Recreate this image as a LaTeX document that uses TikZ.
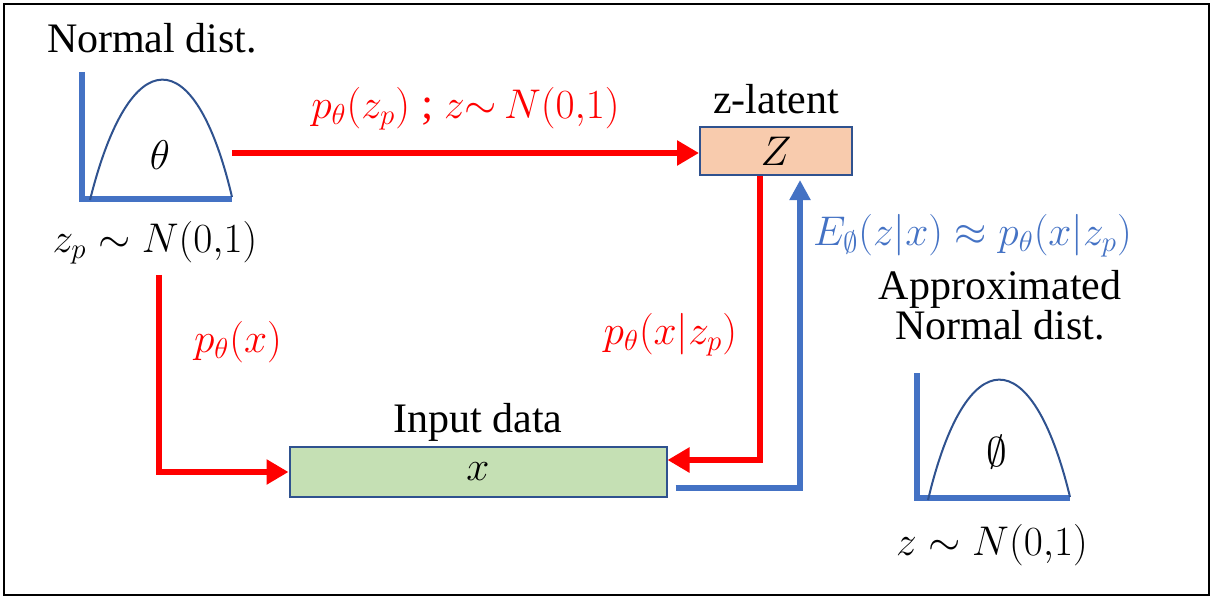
\documentclass[tikz,border=0pt]{standalone}
\usepackage{fontspec}
\setmainfont{Liberation Serif}
\usepackage{xcolor}
\usetikzlibrary{arrows.meta,positioning}

\definecolor{vaered}{HTML}{FF0000}
\definecolor{vaeblue}{HTML}{4472C4}
\definecolor{vaeedge}{HTML}{2F528F}
\definecolor{latentfill}{HTML}{F8CBAD}
\definecolor{inputfill}{HTML}{C5E0B4}

\begin{document}
\begin{tikzpicture}[x=0.5pt, y=-0.5pt, font=\fontsize{21}{25}\selectfont, every node/.style={inner sep=2pt}]
        \tikzset{
            box/.style={draw=vaeedge, line width=1pt, inner sep=0pt},
            redarr/.style={-{Triangle[length=11pt,width=12pt]}, draw=vaered, line width=3pt},
            bluearr/.style={-{Triangle[length=10pt,width=10pt]}, draw=vaeblue, line width=3pt},
            axis/.style={draw=vaeblue, line width=3pt},
            bell/.style={draw=vaeedge, line width=1pt},
            redlbl/.style={text=vaered, font=\fontsize{22}{26}\selectfont},
            bluelbl/.style={text=vaeblue, font=\fontsize{22}{26}\selectfont}
        }
        \useasboundingbox (0,0) rectangle (1213,599);
        \draw[line width=1pt] (4,4) rectangle (1209,595);

        % Prior distribution (left)
        \draw[axis] (82,72) -- (82,199) -- (232,199);
        \draw[bell] (90,200) .. controls (130,40) and (195,40) .. (232,197);
        \node (theta) at (160,155) {$\theta$};
        \node (prior) at (152,38) {Normal dist.};
        \node (zp) at (155,243) {$z_p\sim N(0{,}1)$};

        % Boxes
        \node[box, fill=latentfill, minimum width=76pt, minimum height=24pt] (zbox) at (776,151) {$Z$};
        \node[above=4pt of zbox] (zlab) {z-latent};
        \node[box, fill=inputfill, minimum width=188.5pt, minimum height=25pt] (xbox) at (478,472) {$x$};
        \node[above=0pt of xbox] (xlab) {Input data};

        % Approximated distribution (right)
        \draw[axis] (917,373) -- (917,498) -- (1070,498);
        \draw[bell] (928,500) .. controls (966,340) and (1032,340) .. (1070,497);
        \node (phi) at (997,452) {$\emptyset$};
        \node[align=center, font=\fontsize{21}{20}\selectfont] (post) at (1000,305) {Approximated\\Normal dist.};
        \node (zn) at (992,545) {$z\sim N(0{,}1)$};

        % Connectors
        \draw[redarr] ([yshift=1pt]theta.east -| 232,0) coordinate (tstart) -- (tstart -| zbox.west)
            node[midway, above=8pt, redlbl] (toplab) {$p_\theta(z_p)$ ; $z{\sim}\,N(0{,}1)$};
        \draw[redarr] ([xshift=2pt]zp.south) ++(0,-3pt) |- (xbox.west)
            node[pos=0.17, right=14pt, redlbl] (pxlab) {$p_\theta(x)$};
        \draw[redarr] ([xshift=-8pt]zbox.south) |- ([yshift=6pt]xbox.east)
            node[pos=0.28, left=8pt, redlbl] (pxzlab) {$p_\theta(x|z_p)$};
        \draw[bluearr] ([xshift=4pt,yshift=-8pt]xbox.east) -| ([xshift=12pt,yshift=-2pt]zbox.south)
            node[pos=0.91, right=3pt, bluelbl] (elab) {$E_\emptyset(z|x)\approx p_\theta(x|z_p)$};
    \end{tikzpicture}
\end{document}
